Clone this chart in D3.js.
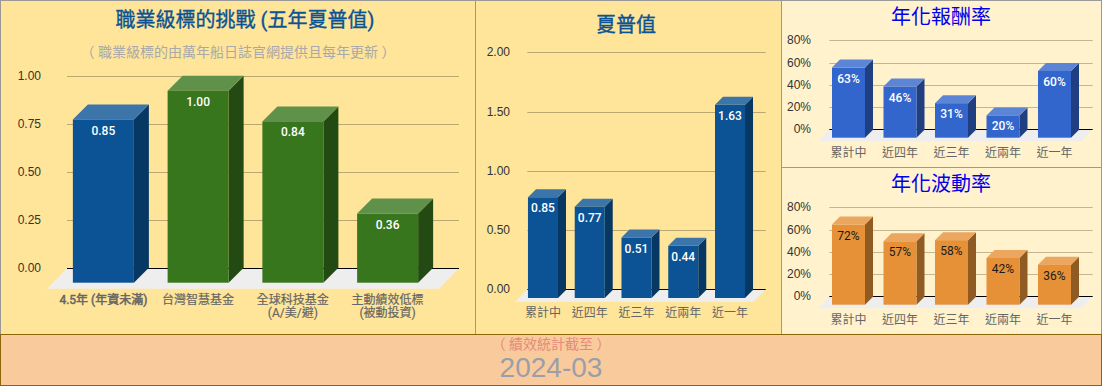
<!DOCTYPE html>
<html>
<head>
<meta charset="utf-8">
<script src="https://cdn.jsdelivr.net/npm/d3@7/dist/d3.min.js"></script>
<style>
  html, body { margin: 0; padding: 0; background: #fff; }
  svg { display: block; font-family: Roboto, 'Noto Sans CJK TC', sans-serif; }
</style>
</head>
<body>
<script>
// Data
const targetCategories = ['4.5年 (年資未滿)', '台灣智慧基金', '全球科技基金\n(A/美/避)', '主動績效低標\n(被動投資)'];
const targetValues = [0.85, 1.00, 0.84, 0.36];
const targetTicks = [0, 0.25, 0.5, 0.75, 1];

const periodCategories = ['累計中', '近四年', '近三年', '近兩年', '近一年'];
const sharpeValues = [0.85, 0.77, 0.51, 0.44, 1.63];
const sharpeTicks = [0, 0.5, 1, 1.5, 2];

const returnValues = [0.63, 0.46, 0.31, 0.20, 0.60];
const volatilityValues = [0.72, 0.57, 0.58, 0.42, 0.36];
const percentTicks = [0, 0.2, 0.4, 0.6, 0.8];

const width = 1102;
const height = 386;

const svg = d3.select('body')
  .append('svg')
  .attr('width', width)
  .attr('height', height);

// Panels
function panel(x, y, w, h, fill, stroke) {
  svg.append('rect')
    .attr('x', x + 0.5)
    .attr('y', y + 0.5)
    .attr('width', w - 1)
    .attr('height', h - 1)
    .attr('fill', fill)
    .attr('stroke', stroke);
}
panel(0, 0, 476, 335, '#FFE599', '#999999');
panel(475, 0, 307, 335, '#FFE599', '#999999');
panel(781, 0, 321, 168, '#FFF2CC', '#999999');
panel(781, 167, 321, 168, '#FFF2CC', '#999999');
panel(0, 334, 1102, 52, '#F9CB9C', '#8B6508');

// y is the alphabetic baseline here
function label(x, y, text, size, color, heavy) {
  return svg.append('text')
    .attr('x', x)
    .attr('y', y)
    .attr('text-anchor', 'middle')
    .attr('font-size', size)
    .attr('fill', color)
    .attr('stroke', heavy ? color : 'none')
    .attr('stroke-width', heavy ? 0.35 : 0)
    .text(text);
}

// One column chart with a fake 3D look
function drawChart(c) {
  const g = svg.append('g');
  const y = d3.scaleLinear().domain(c.domain).range([c.y0, c.y1]);
  const x = d3.scaleBand()
    .domain(c.categories)
    .range(c.band)
    .paddingInner(c.padding)
    .paddingOuter(c.padding / 2);

  // floor
  const fl = c.gridX[0];
  const fr = c.gridX[1];
  g.append('path')
    .attr('d', `M${fl},${c.y0}L${fr},${c.y0}L${fr - c.floorX},${c.y0 + c.floorY}L${fl - c.floorX},${c.y0 + c.floorY}Z`)
    .attr('fill', '#EEEEEE');

  // grid + tick labels
  const axis = g.append('g')
    .attr('transform', `translate(${fl},0)`)
    .call(d3.axisLeft(y)
      .tickValues(c.ticks)
      .tickFormat(d3.format(c.format))
      .tickSize(-(fr - fl))
      .tickPadding(fl - c.tickX));
  axis.select('.domain').remove();
  axis.selectAll('line').attr('stroke', (d) => (d === 0 ? '#000000' : c.gridColor));
  axis.selectAll('text')
    .attr('font-size', 12)
    .attr('fill', '#333333');
  axis.selectAll('.tick').attr('transform', function (d) {
    return `translate(0,${Math.round(y(d)) + 0.5})`;
  });

  // bars
  const front = c.y0 + c.barDrop;
  const bars = g.selectAll('.bar')
    .data(c.values)
    .join('g')
    .attr('class', 'bar');

  const left = (d, i) => x(c.categories[i]);
  const right = (d, i) => left(d, i) + x.bandwidth();
  const top = (d) => y(d) + c.barDrop;

  bars.append('path')
    .attr('d', (d, i) => `M${right(d, i)},${top(d)}l${c.depth},${-c.depth}V${front - c.depth}L${right(d, i)},${front}Z`)
    .attr('fill', (d, i) => c.color(i).side);
  bars.append('path')
    .attr('d', (d, i) => `M${left(d, i)},${top(d)}l${c.depth},${-c.depth}H${right(d, i) + c.depth}L${right(d, i)},${top(d)}Z`)
    .attr('fill', (d, i) => c.color(i).top);
  bars.append('rect')
    .attr('x', left)
    .attr('y', top)
    .attr('width', x.bandwidth())
    .attr('height', (d) => front - top(d))
    .attr('fill', (d, i) => c.color(i).front);

  bars.append('text')
    .attr('x', (d, i) => left(d, i) + x.bandwidth() / 2)
    .attr('y', (d) => top(d) + 15)
    .attr('text-anchor', 'middle')
    .attr('font-size', 12)
    .attr('font-weight', c.valueWeight)
    .attr('fill', c.valueColor)
    .text((d) => d3.format(c.format)(d));

  // category labels, second line as a tspan
  c.categories.forEach((name, i) => {
    const heavy = c.categories === targetCategories;
    const text = svg.append('text')
      .attr('text-anchor', 'middle')
      .attr('font-size', 12)
      .attr('fill', '#666666')
      .attr('stroke', heavy ? '#666666' : 'none')
      .attr('stroke-width', heavy && i === 0 ? 0.5 : 0.2);
    name.split('\n').forEach((line, j) => {
      text.append('tspan')
        .attr('x', x(name) + x.bandwidth() / 2)
        .attr('y', c.labelY + 4.3 + j * 12.7)
        .text(line);
    });
  });
}

const blue = () => ({ front: '#0B5394', top: '#3C75A9', side: '#073763' });
const green = () => ({ front: '#38761D', top: '#5F914A', side: '#234A12' });
const royal = () => ({ front: '#3366CC', top: '#5C85D6', side: '#1F3F80' });
const orange = () => ({ front: '#E69138', top: '#EBA660', side: '#905B23' });

drawChart({
  categories: targetCategories,
  values: targetValues,
  ticks: targetTicks,
  domain: [0, 1],
  format: '.2f',
  y0: 268,
  y1: 76,
  gridX: [67, 459],
  tickX: 41,
  band: [56, 435],
  padding: 0.356,
  depth: 15,
  barDrop: 14.7,
  floorX: 20,
  floorY: 20.7,
  gridColor: '#BBA870',
  labelY: 300,
  valueWeight: 500,
  valueColor: '#FFFFFF',
  color: (i) => (i === 0 ? blue() : green()),
});

drawChart({
  categories: periodCategories,
  values: sharpeValues,
  ticks: sharpeTicks,
  domain: [0, 2],
  format: '.2f',
  y0: 289.3,
  y1: 52.3,
  gridX: [527.3, 765.7],
  tickX: 510,
  band: [519.6, 753.4],
  padding: 0.358,
  depth: 8,
  barDrop: 8.7,
  floorX: 12,
  floorY: 12.4,
  gridColor: '#BBA870',
  labelY: 312.7,
  valueWeight: 500,
  valueColor: '#FFFFFF',
  color: blue,
});

drawChart({
  categories: periodCategories,
  values: returnValues,
  ticks: percentTicks,
  domain: [0, 0.8],
  format: '.0%',
  y0: 129.3,
  y1: 40.3,
  gridX: [829.3, 1092.7],
  tickX: 811,
  band: [822.75, 1080.25],
  padding: 0.359,
  depth: 8,
  barDrop: 8.4,
  floorX: 11,
  floorY: 12,
  gridColor: '#C4B790',
  labelY: 152.7,
  valueWeight: 500,
  valueColor: '#FFFFFF',
  color: royal,
});

drawChart({
  categories: periodCategories,
  values: volatilityValues,
  ticks: percentTicks,
  domain: [0, 0.8],
  format: '.0%',
  y0: 296.3,
  y1: 207.3,
  gridX: [829.3, 1092.7],
  tickX: 811,
  band: [822.75, 1080.25],
  padding: 0.359,
  depth: 8,
  barDrop: 8.4,
  floorX: 11,
  floorY: 12,
  gridColor: '#C4B790',
  labelY: 319.3,
  valueWeight: 'normal',
  valueColor: '#1A1A1A',
  color: orange,
});

// Titles
label(245, 27, '職業級標的挑戰 (五年夏普值)', 20, '#0B5394', true);
label(238, 56.5, '（ 職業級標的由萬年船日誌官網提供且每年更新 ）', 14, '#A9A9A9', false);
label(626, 32, '夏普值', 20, '#0B5394', true);
label(941, 24, '年化報酬率', 20, '#0000EE', false);
label(941, 191.3, '年化波動率', 20, '#0000EE', false);

// Footer, one text with two lines
const footer = svg.append('text')
  .attr('text-anchor', 'middle');
footer.append('tspan')
  .attr('x', 551)
  .attr('y', 349)
  .attr('font-size', 14)
  .attr('fill', '#E58A78')
  .text('（ 績效統計截至 ）');
footer.append('tspan')
  .attr('x', 551)
  .attr('y', 377)
  .attr('font-size', 28)
  .attr('font-family', "'Liberation Sans', sans-serif")
  .attr('fill', '#999FA8')
  .text('2024-03');
</script>
</body>
</html>
